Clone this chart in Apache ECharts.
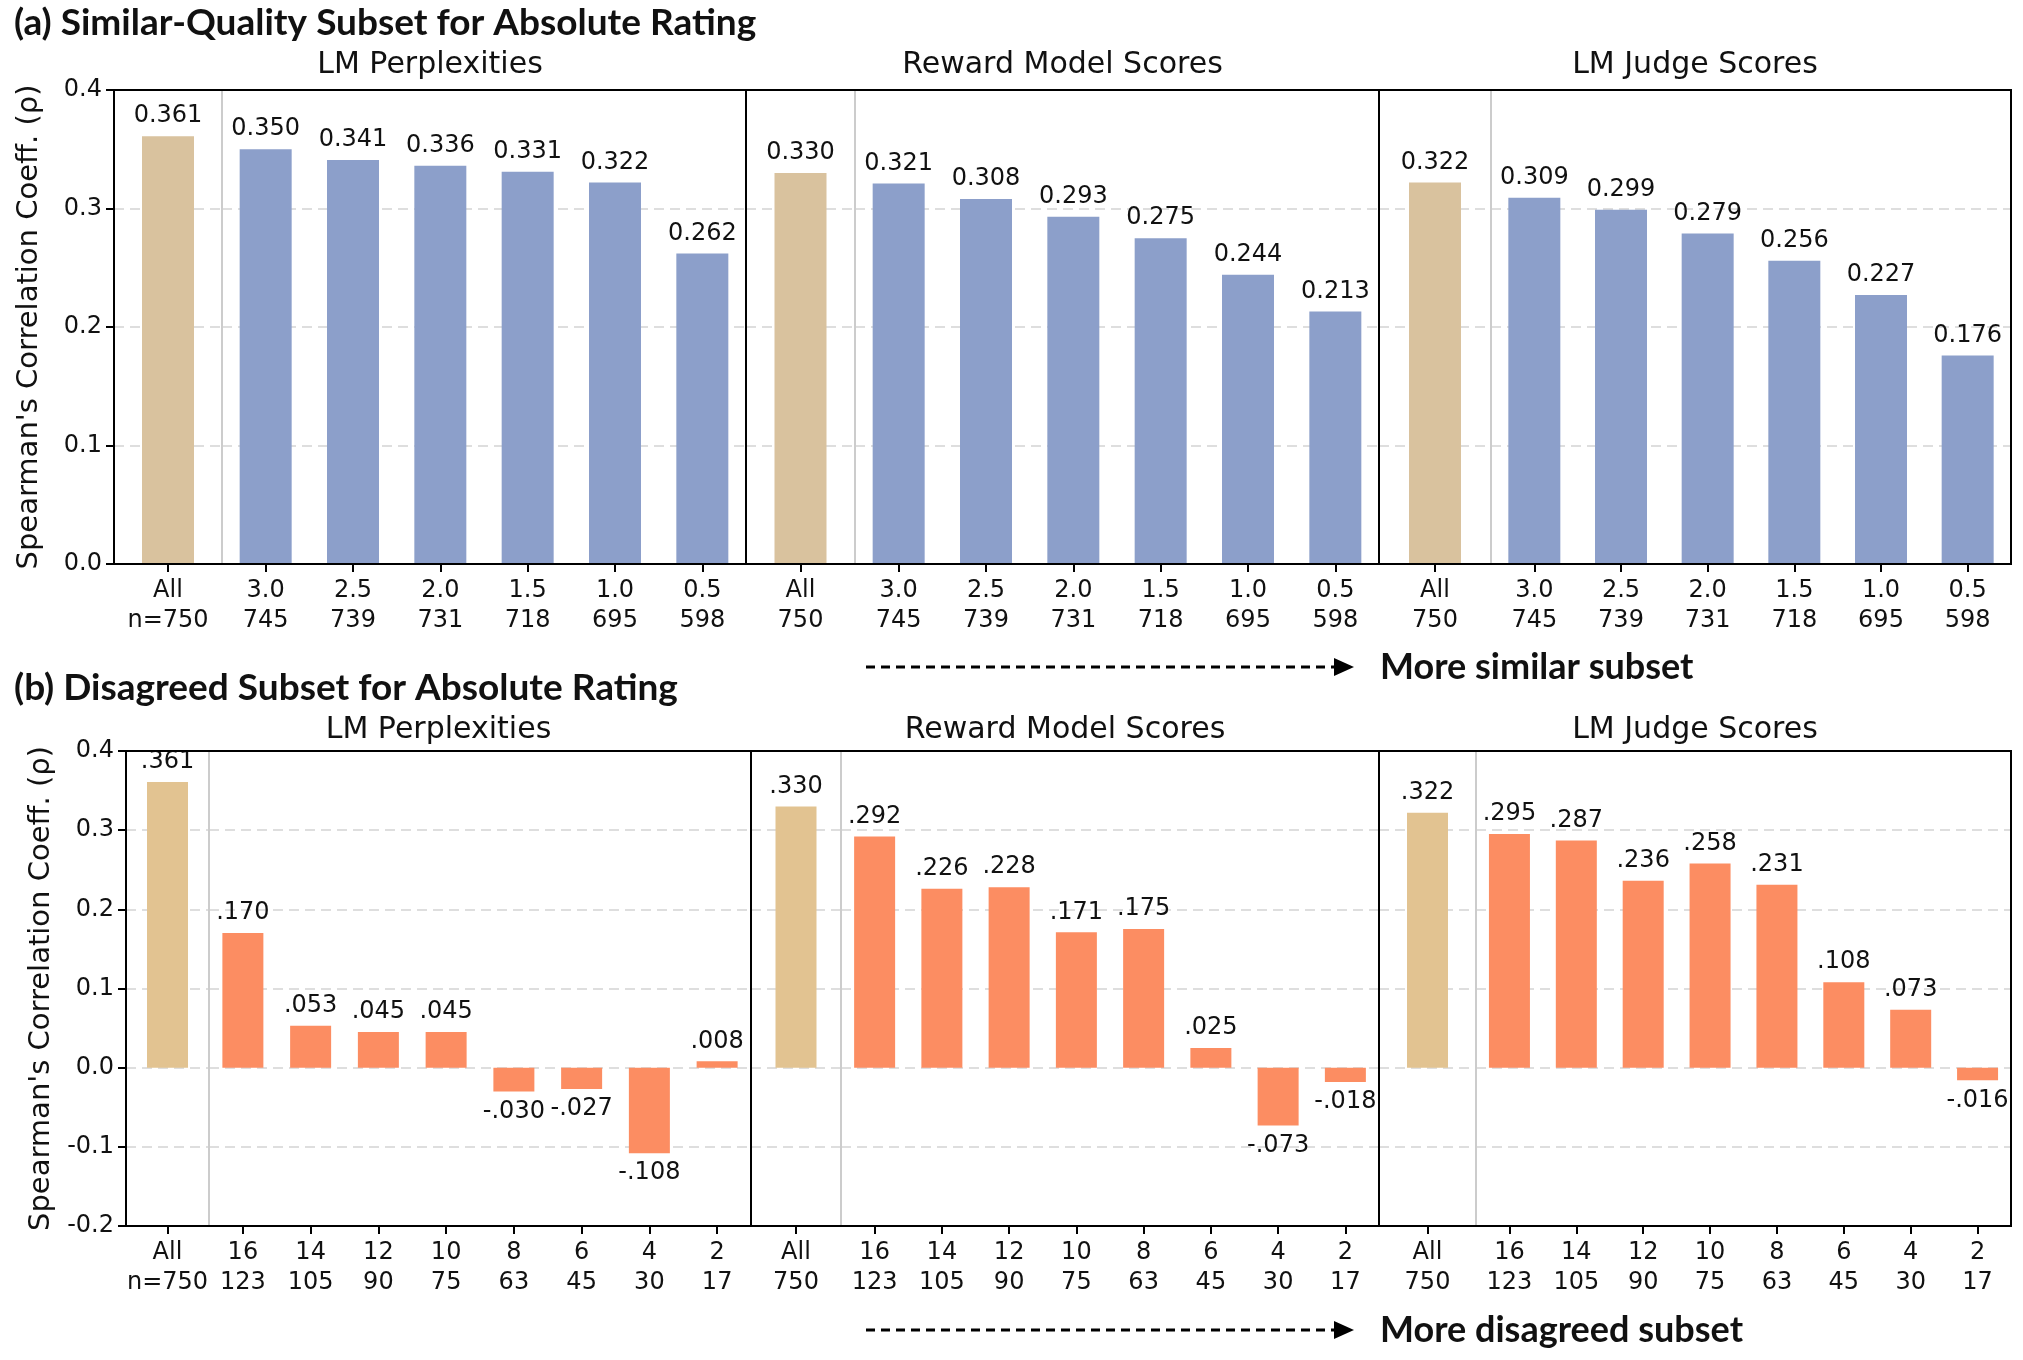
<!DOCTYPE html>
<html><head><meta charset="utf-8">
<script src="https://cdn.jsdelivr.net/npm/echarts@6/dist/echarts.min.js"></script>
<style>html,body{margin:0;padding:0;background:#fff}#c{width:2023px;height:1360px}</style>
</head><body><div id="c"></div>
<script>
// ---------- data ----------
const panelTitles = ['LM Perplexities', 'Reward Model Scores', 'LM Judge Scores'];
const topAllCats = ['All\nn=750', 'All\n750', 'All\n750'];
const topCats = ['3.0\n745', '2.5\n739', '2.0\n731', '1.5\n718', '1.0\n695', '0.5\n598'];
const topAll = [0.361, 0.330, 0.322];
const topPerp = [0.350, 0.341, 0.336, 0.331, 0.322, 0.262];
const topReward = [0.321, 0.308, 0.293, 0.275, 0.244, 0.213];
const topJudge = [0.309, 0.299, 0.279, 0.256, 0.227, 0.176];
const botAllCats = ['All\nn=750', 'All\n750', 'All\n750'];
const botCats = ['16\n123', '14\n105', '12\n90', '10\n75', '8\n63', '6\n45', '4\n30', '2\n17'];
const botAll = [0.361, 0.330, 0.322];
const botPerp = [0.170, 0.053, 0.045, 0.045, -0.030, -0.027, -0.108, 0.008];
const botReward = [0.292, 0.226, 0.228, 0.171, 0.175, 0.025, -0.073, -0.018];
const botJudge = [0.295, 0.287, 0.236, 0.258, 0.231, 0.108, 0.073, -0.016];
const topTicks = {min: 0, max: 0.4, interval: 0.1};
const botTicks = {min: -0.2, max: 0.4, interval: 0.1};

// ---------- layout ----------
const FONT = 'DejaVu Sans';
const rows = [
  {y0: 90, y1: 564, panels: [[114, 222, 746], [746, 855, 1379], [1379, 1491, 2011]],
   allCats: topAllCats, cats: topCats, all: topAll, series: [topPerp, topReward, topJudge],
   ticks: topTicks, allColor: '#D9C29E', color: '#8C9FCA', bw: 52,
   fmt: v => v.toFixed(3), titleY: 65},
  {y0: 751, y1: 1226, panels: [[126, 209, 751], [751, 841, 1379], [1379, 1476, 2011]],
   allCats: botAllCats, cats: botCats, all: botAll, series: [botPerp, botReward, botJudge],
   ticks: botTicks, allColor: '#E2C391', color: '#FC8D62', bw: 41,
   fmt: v => (v < 0 ? '-' : '') + Math.abs(v).toFixed(3).slice(1), titleY: 730}
];

const grid = [], xAxis = [], yAxis = [], series = [], graphic = [];
const axisLbl = {fontFamily: FONT, fontSize: 24, color: '#111', lineHeight: 30, margin: 12};
const splitLine = {show: true, lineStyle: {color: '#d4d4d4', type: [10, 6], width: 1.5}};

rows.forEach((r, ri) => {
  r.panels.forEach((p, pi) => {
    const [xa, xd, xb] = p;
    const parts = [
      {left: xa, width: xd - xa, cats: [r.allCats[pi]], data: [r.all[pi]], color: r.allColor, first: true},
      {left: xd, width: xb - xd, cats: r.cats, data: r.series[pi], color: r.color, first: false}
    ];
    parts.forEach(part => {
      const gi = grid.length;
      grid.push({left: part.left, top: r.y0, width: part.width, height: r.y1 - r.y0, containLabel: false});
      xAxis.push({type: 'category', gridIndex: gi, data: part.cats, position: 'bottom',
        axisLine: {show: false, onZero: false}, axisTick: {show: true, alignWithLabel: true, length: 8, lineStyle: {color: '#000', width: 2}},
        axisLabel: axisLbl});
      const showY = part.first && pi === 0;
      yAxis.push({type: 'value', gridIndex: gi, min: r.ticks.min, max: r.ticks.max, interval: r.ticks.interval,
        axisLine: {show: !part.first, lineStyle: {color: '#cccccc', width: 2}},
        axisTick: {show: showY, length: 8, lineStyle: {color: '#000', width: 2}},
        axisLabel: {show: showY, fontFamily: FONT, fontSize: 24, color: '#111', margin: 12,
          formatter: v => v.toFixed(1)},
        splitLine: splitLine,
        name: showY ? "Spearman's Correlation Coeff. (ρ)" : '', nameLocation: 'middle', nameGap: 70,
        nameTextStyle: {fontFamily: FONT, fontSize: 29, color: '#111'}});
      series.push({type: 'bar', xAxisIndex: gi, yAxisIndex: gi, barWidth: r.bw,
        data: part.data.map(v => ({value: v, label: {position: v < 0 ? 'bottom' : 'top'}})),
        itemStyle: {color: part.color},
        label: {show: true, fontFamily: FONT, fontSize: 24, color: '#111', distance: 8,
          formatter: o => r.fmt(o.value)}});
    });
    graphic.push({type: 'rect', shape: {x: xa, y: r.y0, width: xb - xa, height: r.y1 - r.y0},
      style: {fill: 'none', stroke: '#000', lineWidth: 2}, z: 100});
    graphic.push({type: 'text', x: (xa + xb) / 2, y: r.titleY,
      style: {text: panelTitles[pi], font: '30px "DejaVu Sans"', fill: '#111', textAlign: 'center', textVerticalAlign: 'middle'}});
  });
});

// section titles
graphic.push({type: 'text', x: 14, y: 23, style: {text: '(a) Similar-Quality Subset for Absolute Rating',
  font: 'bold 37px Lato', fill: '#111', textVerticalAlign: 'middle'}});
graphic.push({type: 'text', x: 14, y: 688, style: {text: '(b) Disagreed Subset for Absolute Rating',
  font: 'bold 37px Lato', fill: '#111', textVerticalAlign: 'middle'}});
// arrows
[[667, 'More similar subset'], [1330, 'More disagreed subset']].forEach(([y, t]) => {
  graphic.push({type: 'line', shape: {x1: 866, y1: y, x2: 1336, y2: y},
    style: {stroke: '#000', lineWidth: 3, lineDash: [9, 6]}});
  graphic.push({type: 'polygon', shape: {points: [[1334, y - 9], [1354, y], [1334, y + 9]]}, style: {fill: '#000'}});
  graphic.push({type: 'text', x: 1380, y: y, style: {text: t, font: 'bold 36px Lato', fill: '#111', textVerticalAlign: 'middle'}});
});

const chart = echarts.init(document.getElementById('c'), null, {renderer: 'canvas'});
chart.setOption({animation: false, backgroundColor: '#fff', grid, xAxis, yAxis, series, graphic});
</script></body></html>
